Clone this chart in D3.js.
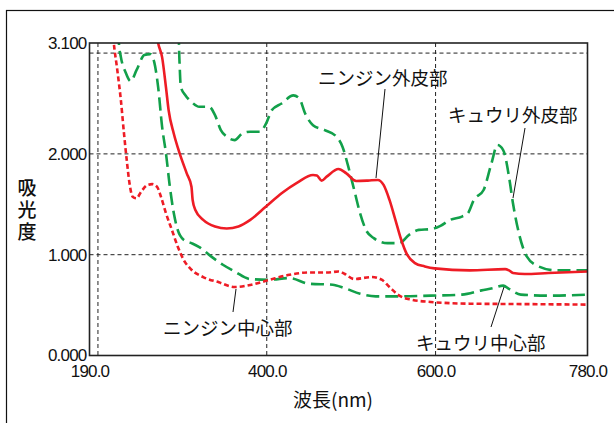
<!DOCTYPE html>
<html><head><meta charset="utf-8">
<script src="https://cdn.jsdelivr.net/npm/d3@7"></script>
<style>body{margin:0;background:#fff}svg{display:block}</style>
</head><body>
<svg id="c" width="614" height="423"></svg>
<script>
// Data (wavelength nm, absorbance)
const carrotOuter = [[266,3.4],[271.3,3.1],[276,2.96],[280.6,2.66],[283.8,2.43],[289.9,2.2],[296.8,2.005],[305.2,1.807],[310.8,1.675],[312.2,1.543],[315.4,1.444],[324.7,1.346],[338.7,1.28],[352.6,1.26],[366.5,1.28],[380.5,1.346],[399.1,1.477],[417.6,1.609],[436.2,1.715],[454.8,1.791],[459.4,1.785],[465,1.735],[471,1.774],[485,1.85],[494.3,1.807],[505.9,1.731],[519.8,1.735],[531.5,1.741],[538.4,1.692],[545.4,1.543],[552.4,1.346],[559.3,1.148],[566.3,1.0],[575.6,0.917],[587.2,0.884],[598.8,0.864],[640.6,0.844],[682.4,0.857],[687,0.844],[691.7,0.818],[705.7,0.808],[733.5,0.818],[780,0.834]];
const carrotCenter = [[216,3.4],[218.8,3.1],[222.5,2.86],[227.2,2.53],[230.9,2.2],[234.1,1.94],[237.4,1.708],[241.1,1.576],[245.7,1.56],[251.3,1.626],[258.8,1.692],[264.3,1.70],[269.9,1.675],[274.6,1.576],[280.6,1.411],[287.6,1.246],[294.5,1.082],[301.5,0.95],[310.8,0.851],[324.7,0.778],[343.3,0.726],[361.9,0.679],[380.5,0.699],[403.7,0.752],[426.9,0.801],[450.2,0.824],[473.4,0.824],[485,0.834],[492,0.811],[503.6,0.759],[524.5,0.778],[536.1,0.752],[545.4,0.679],[557,0.594],[570.9,0.554],[594.2,0.531],[640.6,0.514],[687,0.511],[780,0.505]];
const cucumberOuter = [[295.5,3.4],[296,3.1],[296.9,2.86],[298.2,2.665],[303.8,2.58],[310.8,2.516],[320.1,2.467],[331.7,2.467],[338.7,2.384],[345.6,2.236],[352.6,2.17],[361.9,2.137],[371.2,2.203],[380.5,2.22],[392.1,2.22],[399.1,2.3],[406,2.434],[417.6,2.5],[431.6,2.58],[438.6,2.55],[445.5,2.4],[454.8,2.285],[468.7,2.236],[482.7,2.17],[489.7,2.071],[496.6,1.873],[503.6,1.642],[510.6,1.411],[517.5,1.246],[526.8,1.164],[543.1,1.115],[557,1.115],[568.6,1.197],[580.2,1.246],[594.2,1.253],[605.8,1.286],[617.4,1.346],[631.3,1.378],[638.3,1.411],[645.3,1.543],[656.9,1.642],[666.2,1.906],[673.2,2.088],[680.1,2.038],[687,1.774],[691.7,1.51],[698.7,1.214],[708,0.983],[722,0.884],[742.8,0.844],[780,0.844]];
const cucumberCenter = [[223,3.4],[224.8,3.1],[227.2,2.96],[232.7,2.81],[238.8,2.72],[245.7,2.83],[255,2.98],[262,2.99],[266.7,2.91],[271.3,2.665],[276,2.27],[280.6,2.005],[285.2,1.675],[289.9,1.411],[294.5,1.246],[301.5,1.148],[310.8,1.115],[320.1,1.075],[334,0.983],[348,0.9],[361.9,0.834],[380.5,0.758],[403.7,0.752],[426.9,0.768],[450.2,0.712],[478,0.702],[492,0.669],[510.6,0.613],[529.2,0.587],[557,0.587],[594.2,0.594],[631.3,0.604],[654.5,0.646],[668.5,0.669],[680.1,0.693],[687,0.66],[701,0.604],[733.5,0.594],[780,0.604]];
const xTickLabels = [190, 400, 600, 780];
const yTickLabels = [0, 1, 2, 3.1];
const xGrid = [200, 400, 600];
const yGrid = [1, 2, 3];
const seriesNames = ["ニンジン外皮部","ニンジン中心部","キュウリ外皮部","キュウリ中心部"];

const svg = d3.select("#c");
const L = 89.5, R = 587.5, T = 43, B = 355.5;
const x = d3.scaleLinear().domain([190, 780]).range([L, R]);
const y = d3.scaleLinear().domain([0, 3.1]).range([B, T]);

// outer border
svg.append("rect").attr("x",6.5).attr("y",10.5).attr("width",640).attr("height",440)
  .attr("fill","none").attr("stroke","#111").attr("stroke-width",1.2);

svg.append("clipPath").attr("id","clip").append("rect")
  .attr("x",L).attr("y",T).attr("width",R-L).attr("height",B-T);

// grid
const g = svg.append("g");
g.selectAll(".vg").data(xGrid).join("line")
  .attr("x1",d=>x(d)).attr("x2",d=>x(d)).attr("y1",T).attr("y2",B)
  .attr("stroke","#222").attr("stroke-width",1).attr("stroke-dasharray","4,3");
g.selectAll(".hg").data(yGrid).join("line")
  .attr("y1",d=>y(d)).attr("y2",d=>y(d)).attr("x1",L).attr("x2",R)
  .attr("stroke","#222").attr("stroke-width",1).attr("stroke-dasharray","4,3");

// axes (labels only)
const fmtX = d3.format(".1f"), fmtY = d3.format(".3f");
const xAxis = svg.append("g").attr("transform",`translate(0,${B})`)
  .call(d3.axisBottom(x).tickValues(xTickLabels).tickFormat(fmtX).tickSize(0).tickPadding(9));
const yAxis = svg.append("g").attr("transform",`translate(${L},0)`)
  .call(d3.axisLeft(y).tickValues(yTickLabels).tickFormat(fmtY).tickSize(0).tickPadding(3));
[xAxis,yAxis].forEach(a=>{
  a.select(".domain").remove();
  a.selectAll("text").attr("font-family","'Liberation Sans', Arial, sans-serif")
    .attr("font-size",17).attr("fill","#111").attr("letter-spacing","-0.8px");
});

// lines
const line = d3.line().x(d=>x(d[0])).y(d=>y(d[1])).curve(d3.curveMonotoneX);
const lg = svg.append("g").attr("clip-path","url(#clip)");
const styles = [
  {data: cucumberCenter, color:"#12a04a", dash:"13,6"},
  {data: cucumberOuter, color:"#12a04a", dash:"13,6"},
  {data: carrotCenter, color:"#ee1c25", dash:"5,3"},
  {data: carrotOuter, color:"#ee1c25", dash:null}
];
styles.forEach(s=>{
  lg.append("path").attr("d",line(s.data)).attr("fill","none")
    .attr("stroke",s.color).attr("stroke-width",2.6)
    .attr("stroke-dasharray",s.dash);
});

// frame
svg.append("rect").attr("x",L).attr("y",T).attr("width",R-L).attr("height",B-T)
  .attr("fill","none").attr("stroke","#222").attr("stroke-width",1.6);

// annotations
const cjk = "'Noto Sans CJK JP', 'Noto Sans', sans-serif";
const ann = [
  {name: seriesNames[0], tx:318, ty:78, lx1:385, ly1:89, lx2:376, ly2:178},
  {name: seriesNames[2], tx:448, ty:115, lx1:525, ly1:128, lx2:513, ly2:198},
  {name: seriesNames[1], tx:163, ty:328, lx1:236, ly1:289, lx2:233, ly2:312},
  {name: seriesNames[3], tx:416, ty:343, lx1:504, ly1:287, lx2:491, ly2:327}
];
ann.forEach(a=>{
  svg.append("line").attr("x1",a.lx1).attr("y1",a.ly1).attr("x2",a.lx2).attr("y2",a.ly2)
    .attr("stroke","#111").attr("stroke-width",1);
  svg.append("text").attr("x",a.tx).attr("y",a.ty).attr("dy","0.36em")
    .attr("font-family",cjk).attr("font-size",18.5).attr("fill","#111").text(a.name);
});

// axis titles
svg.append("text").attr("x",333).attr("y",400).attr("dy","0.36em").attr("text-anchor","middle")
  .attr("font-family",cjk).attr("font-size",19).attr("fill","#111").text("波長(nm)");
svg.append("text").attr("x",27).attr("y",211)
  .attr("font-family",cjk).attr("font-size",19).attr("font-weight",500).attr("fill","#111")
  .attr("text-anchor","middle").style("writing-mode","vertical-rl")
  .attr("letter-spacing","3px").text("吸光度");
</script>
</body></html>
